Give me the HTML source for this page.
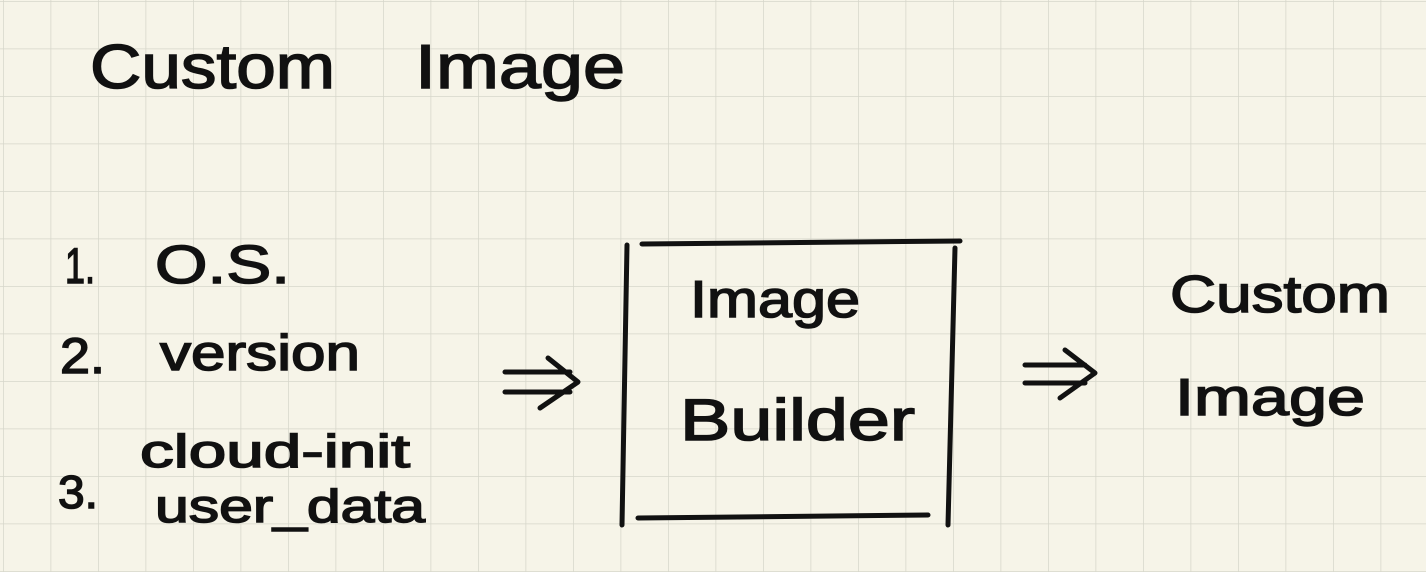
<!DOCTYPE html>
<html><head><meta charset="utf-8"><style>
html,body{margin:0;padding:0;background:#f6f4e8;}
svg{display:block}
text{font-family:"Liberation Sans",sans-serif;fill:#111;stroke:#111;stroke-width:1.5;}
</style></head><body>
<svg width="1426" height="572" viewBox="0 0 1426 572" xmlns="http://www.w3.org/2000/svg">
<defs>
<pattern id="g" width="47.5" height="47.5" patternUnits="userSpaceOnUse" x="3" y="1">
<path d="M0 0H47.5M0 0V47.5" stroke="#d6d6ca" stroke-width="1.5" fill="none"/>
</pattern>
</defs>
<rect width="1426" height="572" fill="#f6f4e8"/>
<rect width="1426" height="572" fill="url(#g)"/>
<text x="90" y="88" font-size="62" textLength="245" lengthAdjust="spacingAndGlyphs">Custom</text>
<text x="415" y="88" font-size="62" textLength="210" lengthAdjust="spacingAndGlyphs">Image</text>
<text x="65" y="283" font-size="50" textLength="30" lengthAdjust="spacingAndGlyphs">1.</text>
<text x="155" y="283" font-size="54" textLength="135" lengthAdjust="spacingAndGlyphs">O.S.</text>
<text x="60" y="373" font-size="50" textLength="45" lengthAdjust="spacingAndGlyphs">2.</text>
<text x="160" y="370" font-size="50" textLength="200" lengthAdjust="spacingAndGlyphs">version</text>
<text x="140" y="467" font-size="46" textLength="270" lengthAdjust="spacingAndGlyphs">cloud-init</text>
<text x="58" y="508" font-size="46" textLength="40" lengthAdjust="spacingAndGlyphs">3.</text>
<text x="155" y="522" font-size="46" textLength="270" lengthAdjust="spacingAndGlyphs">user_data</text>
<g stroke="#111" stroke-width="5" fill="none" stroke-linecap="round" stroke-linejoin="round">
<path d="M505 372H570M505 392H570M548 358L578 382L540 408"/>
<path d="M1025 365H1085M1025 383H1085M1065 350L1095 373L1060 398"/>
<path d="M642 244L960 241"/>
<path d="M627 245L622 525"/>
<path d="M955 248L948 525"/>
<path d="M638 518L928 515"/>
</g>
<text x="690" y="317" font-size="52" textLength="170" lengthAdjust="spacingAndGlyphs">Image</text>
<text x="680" y="440" font-size="58" textLength="235" lengthAdjust="spacingAndGlyphs">Builder</text>
<text x="1170" y="312" font-size="52" textLength="220" lengthAdjust="spacingAndGlyphs">Custom</text>
<text x="1175" y="415" font-size="52" textLength="190" lengthAdjust="spacingAndGlyphs">Image</text>
</svg>
</body></html>
